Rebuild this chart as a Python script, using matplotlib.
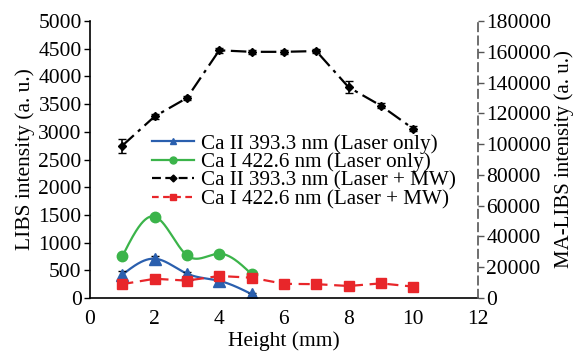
import numpy as np
import matplotlib
matplotlib.use("Agg")
import matplotlib.pyplot as plt

plt.rcParams['font.family'] = ['Liberation Serif', 'DejaVu Serif']

# ---- data ----
x_lo = [1, 2, 3, 4, 5]
ca2_laser = [420, 710, 440, 310, 70]
ca2_laser_err = [60, 40, 30, 30, 20]
ca1_laser = [750, 1470, 770, 800, 430]

x_mw = [1, 2, 3, 4, 5, 6, 7, 8, 9, 10]
ca2_mw = [99000, 118000, 130000, 161000, 160000, 160000, 160500, 137000, 125000, 110000]
ca2_mw_err = [4500, 1500, 1500, 1500, 1500, 1500, 1500, 4000, 1500, 1500]
ca1_mw = [9000, 12500, 11300, 14300, 13200, 9200, 9000, 7800, 9500, 7400]

xticks = [0, 2, 4, 6, 8, 10, 12]
lticks = [0, 500, 1000, 1500, 2000, 2500, 3000, 3500, 4000, 4500, 5000]
rticks = [0, 20000, 40000, 60000, 80000, 100000, 120000, 140000, 160000, 180000]

labels = ["Ca II 393.3 nm (Laser only)", "Ca I 422.6 nm (Laser only)",
          "Ca II 393.3 nm (Laser + MW)", "Ca I 422.6 nm (Laser + MW)"]


def spline(xs, ys, n=200):
    xs = np.asarray(xs, float); ys = np.asarray(ys, float)
    m = len(xs); h = np.diff(xs)
    A = np.zeros((m, m)); b = np.zeros(m)
    A[0, 0] = A[-1, -1] = 1
    for i in range(1, m - 1):
        A[i, i - 1] = h[i - 1]; A[i, i] = 2 * (h[i - 1] + h[i]); A[i, i + 1] = h[i]
        b[i] = 3 * ((ys[i + 1] - ys[i]) / h[i] - (ys[i] - ys[i - 1]) / h[i - 1])
    c = np.linalg.solve(A, b)
    xx = np.linspace(xs[0], xs[-1], n); yy = np.empty_like(xx)
    for k, xv in enumerate(xx):
        i = min(np.searchsorted(xs, xv, side='right') - 1, m - 2)
        bb = (ys[i + 1] - ys[i]) / h[i] - h[i] * (2 * c[i] + c[i + 1]) / 3
        d = (c[i + 1] - c[i]) / (3 * h[i])
        t = xv - xs[i]
        yy[k] = ys[i] + bb * t + c[i] * t * t + d * t ** 3
    return xx, yy


blue = '#2a5fae'
green = '#3bb44a'
red = '#e8262a'

fig = plt.figure(figsize=(5.73, 3.51), dpi=100)
ax = fig.add_axes([0.157, 0.151, 0.677, 0.789])
ax2 = ax.twinx()

# left axis series
xx, yy = spline(x_lo, ca2_laser)
ax.plot(xx, yy, color=blue, lw=1.6)
ax.errorbar(x_lo, ca2_laser, yerr=ca2_laser_err, fmt='none', ecolor='black', capsize=3, lw=1)
ax.plot(x_lo, ca2_laser, ls='none', marker='^', ms=8.5, color=blue)
xx, yy = spline(x_lo, ca1_laser)
ax.plot(xx, yy, color=green, lw=1.6)
ax.plot(x_lo, ca1_laser, ls='none', marker='o', ms=7.5, color=green)

# right axis series
ax2.errorbar(x_mw, ca2_mw, yerr=ca2_mw_err, fmt='none', ecolor='black', capsize=3, lw=1.2)
ax2.plot(x_mw, ca2_mw, color='black', ls=(0, (7, 2.5, 1.5, 2.5)), lw=1.6, marker='D', ms=4.5)
ax2.plot(x_mw, ca1_mw, color=red, ls=(0, (5, 3)), lw=1.6, marker='s', ms=7.5)

# legend handles
h = [plt.Line2D([], [], color=blue, lw=1.6, marker='^', ms=5),
     plt.Line2D([], [], color=green, lw=1.6, marker='o', ms=5),
     plt.Line2D([], [], color='black', lw=1.6, ls=(0, (4, 2)), marker='D', ms=3.5),
     plt.Line2D([], [], color=red, lw=1.6, ls=(0, (3, 2)), marker='s', ms=5)]
leg = ax2.legend(h, labels, loc='upper left', bbox_to_anchor=(0.16, 0.592), frameon=False,
                 fontsize=15.2, handlelength=2.0, handletextpad=0.3, labelspacing=-0.06,
                 borderaxespad=0, borderpad=0)

ax.set_xlim(0, 12)
ax.set_ylim(0, 5000)
ax2.set_ylim(0, 180000)
ax.set_xticks(xticks)
ax.set_yticks(lticks)
ax2.set_yticks(rticks)

for a in (ax, ax2):
    a.spines['top'].set_visible(False)
ax.spines['right'].set_visible(False)
ax2.spines['left'].set_visible(False)
ax2.spines['bottom'].set_visible(False)
ax2.spines['right'].set_linestyle((0, (5, 3)))
ax2.spines['right'].set_color('#555555')
ax2.spines['right'].set_linewidth(1.2)
ax.spines['left'].set_linewidth(1.2)
ax.spines['bottom'].set_linewidth(1.2)

ax.tick_params(axis='y', direction='out', length=4, width=1, labelsize=15.5, pad=2)
ax.tick_params(axis='x', length=0, labelsize=15.5, pad=9)
ax2.tick_params(axis='y', direction='out', length=4, width=1, color='#555555', labelsize=15.5, pad=2)

ax.set_xlabel("Height (mm)", fontsize=15.5, labelpad=1)
ax.set_ylabel("LIBS intensity (a. u.)", fontsize=15.5, labelpad=2)
ax2.set_ylabel("MA-LIBS intensity (a. u.)", fontsize=15, labelpad=2)

fig.savefig("out.png", dpi=100)
